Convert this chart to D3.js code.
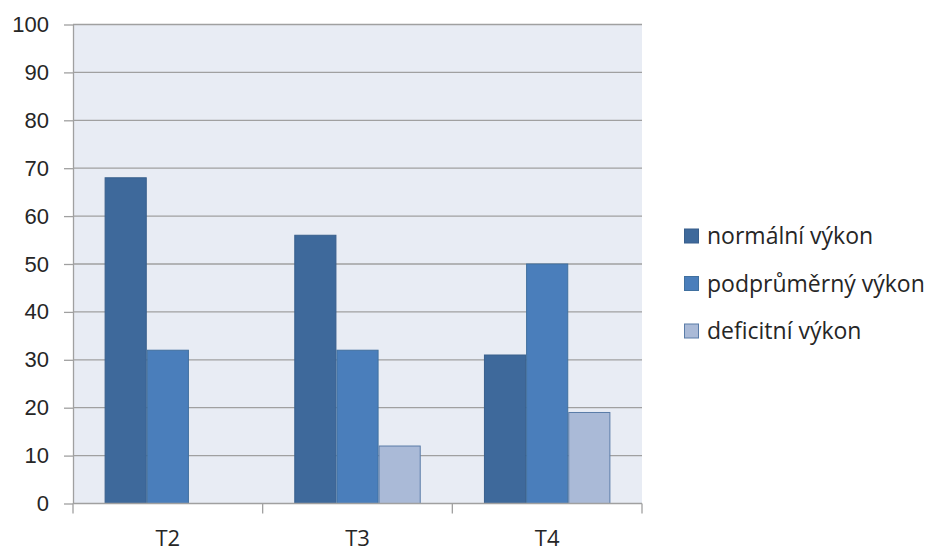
<!DOCTYPE html>
<html>
<head>
<meta charset="utf-8">
<script src="https://cdn.jsdelivr.net/npm/d3@7"></script>
<style>
  html, body { margin: 0; padding: 0; background: #fff; }
  svg { display: block; font-family: "Open Sans", "DejaVu Sans", sans-serif; }
</style>
</head>
<body>
<svg id="chart" width="929" height="549"></svg>
<script>
// Test periods on the x axis
const categories = ["T2", "T3", "T4"];
// Performance groups (legend order)
const seriesNames = ["normální výkon", "podprůměrný výkon", "deficitní výkon"];
// Percent of subjects per group, one array per group, aligned with categories
const normalni = [68, 56, 31];
const podprumerny = [32, 32, 50];
const deficitni = [0, 12, 19];
// Y axis ticks
const yTicks = [0, 10, 20, 30, 40, 50, 60, 70, 80, 90, 100];

const seriesValues = [normalni, podprumerny, deficitni];
const fills = ["#3E699B", "#4A7EBB", "#AABAD7"];
const strokes = ["#385F8C", "#40709F", "#5A7CA8"];

const svg = d3.select("#chart");
const plot = { left: 73, right: 642, top: 24.5, bottom: 503.5 };

const x = d3.scaleBand().domain(categories).range([plot.left, plot.right]).paddingInner(0).paddingOuter(0);
const bw = x.bandwidth();
const xi = d3.scaleBand().domain(d3.range(seriesNames.length)).range([bw / 6, bw * 5 / 6]);
const y = d3.scaleLinear().domain([0, 100]).range([plot.bottom, plot.top]);

// plot area background
svg.append("rect")
  .attr("x", plot.left).attr("y", plot.top)
  .attr("width", plot.right - plot.left).attr("height", plot.bottom - plot.top)
  .attr("fill", "#E8ECF4");

// y axis with ticks and labels
const yAxis = svg.append("g")
  .attr("transform", `translate(${plot.left},0)`)
  .call(d3.axisLeft(y).tickValues(yTicks).tickSize(9).tickPadding(15).tickSizeOuter(0));
yAxis.select(".domain").attr("stroke", "#A0A0A0").attr("stroke-width", 1.3);
yAxis.selectAll(".tick line").attr("stroke", "#A0A0A0").attr("stroke-width", 1.3);
yAxis.selectAll(".tick text").attr("font-size", 22).attr("fill", "#262626");

// horizontal gridlines
svg.append("g").selectAll("line.grid")
  .data(yTicks.filter(d => d > 0))
  .join("line")
  .attr("x1", plot.left).attr("x2", plot.right)
  .attr("y1", d => y(d)).attr("y2", d => y(d))
  .attr("stroke", "#A0A0A0").attr("stroke-width", 1.3);

// bars
const groups = svg.append("g").selectAll("g")
  .data(categories)
  .join("g")
  .attr("transform", d => `translate(${x(d)},0)`);

groups.selectAll("rect")
  .data((c, ci) => seriesValues.map((vals, si) => ({ si, v: vals[ci] })).filter(d => d.v > 0))
  .join("rect")
  .attr("x", d => xi(d.si) + 0.5)
  .attr("width", xi.bandwidth() - 1)
  .attr("y", d => y(d.v))
  .attr("height", d => y(0) - y(d.v))
  .attr("fill", d => fills[d.si])
  .attr("stroke", d => strokes[d.si])
  .attr("stroke-width", 1);

// x axis
const xAxisTicks = [plot.left, ...categories.map(c => x(c) + bw)];
const xAxis = svg.append("g");
xAxis.append("line")
  .attr("x1", plot.left).attr("x2", plot.right)
  .attr("y1", plot.bottom).attr("y2", plot.bottom)
  .attr("stroke", "#A0A0A0").attr("stroke-width", 1.3);
xAxis.selectAll("line.tick")
  .data(xAxisTicks)
  .join("line")
  .attr("x1", d => d).attr("x2", d => d)
  .attr("y1", plot.bottom).attr("y2", plot.bottom + 10)
  .attr("stroke", "#A0A0A0").attr("stroke-width", 1.3);
xAxis.selectAll("text")
  .data(categories)
  .join("text")
  .attr("x", d => x(d) + bw / 2)
  .attr("y", 546)
  .attr("text-anchor", "middle")
  .attr("font-size", 22)
  .attr("fill", "#262626")
  .text(d => d);

// legend
const legend = svg.append("g").selectAll("g")
  .data(seriesNames)
  .join("g")
  .attr("transform", (d, i) => `translate(684,${236 + i * 47.5})`);
legend.append("rect")
  .attr("x", 0.5).attr("y", -7)
  .attr("width", 14).attr("height", 14)
  .attr("fill", (d, i) => fills[i])
  .attr("stroke", (d, i) => strokes[i]);
legend.append("text")
  .attr("x", 23).attr("y", 0)
  .attr("dy", "0.35em")
  .attr("font-size", 23)
  .attr("fill", "#262626")
  .text(d => d);
</script>
</body>
</html>
